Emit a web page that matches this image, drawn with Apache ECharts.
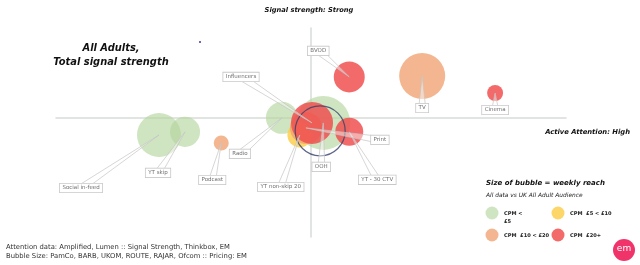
<!DOCTYPE html>
<html><head><meta charset="utf-8">
<script src="https://cdn.jsdelivr.net/npm/echarts@6/dist/echarts.min.js"></script>
<style>html,body{margin:0;padding:0;background:#fff}#c{width:640px;height:265px}</style>
</head><body><div id="c"></div>
<script>
// ---- data ----
const channels  = ['BVOD','TV','Cinema','Influencers','Radio','Social in-feed','YT skip','Podcast','YT non-skip 20','OOH','YT - 30 CTV','Print'];
const attention = [7.5, 21.8, 36.1, 0.2, -5.7, -29.8, -24.7, -17.6, -2.2, 2.4, 7.5, -1.0];
const signal    = [19.6, 20.0, 11.9, -2.4, 0.0, -8.2, -6.7, -12.0, -8.2, -2.4, -6.7, -4.8];
const reach     = [19.6, 43.2, 5.2, 36.0, 20.9, 39.5, 18.4, 4.6, 12.5, 59.5, 16.0, 20.9];
const cpmBand   = ['£20+','£10 < £20','£20+','£20+','< £5','< £5','< £5','£10 < £20','£5 < £10','< £5','£20+','£10 < £20'];
const bands     = ['< £5','£5 < £10','£10 < £20','£20+'];
const allAdults = [1.8, -6.2, 51.0];
// label placement (pixel offsets of each callout from its bubble)
const labelOffsets = [[-31,-26],[0,32],[0,17],[-71,-46],[-42,36],[-78,53],[-27,41],[-9,37],[-19,52],[-2,44],[28,48],[74,12]];

const bandColors = {'< £5':'#b5d59e','£5 < £10':'#fccf4d','£10 < £20':'#f0a474','£20+':'#f05050'};
const bandOpacity = {'< £5':0.65,'£5 < £10':0.85,'£10 < £20':0.8,'£20+':0.85};
const sizeK = 7;
const F = '"DejaVu Sans", sans-serif';

const chart = echarts.init(document.getElementById('c'), null, {renderer:'canvas'});

const bubbleSeries = bands.map(b => ({
  type:'scatter', name:b,
  data: channels.map((n,i)=>[attention[i], signal[i], reach[i], n]).filter((d,i)=>cpmBand[i]===b),
  symbolSize: v => sizeK*Math.sqrt(v[2]),
  itemStyle:{color:bandColors[b], opacity:bandOpacity[b]},
  emphasis:{disabled:true}, silent:true
}));

const outlineSeries = {
  type:'scatter', name:'All Adults',
  data:[allAdults],
  symbolSize: v => sizeK*Math.sqrt(v[2]),
  itemStyle:{color:'rgba(0,0,0,0)', borderColor:'#34406a', borderWidth:1.2},
  silent:true, z:3
};

const calloutSeries = {
  type:'custom', coordinateSystem:'cartesian2d', silent:true, z:5,
  data: channels.map((n,i)=>[attention[i], signal[i]]),
  renderItem: function(params, api){
    const i = params.dataIndex;
    const p = api.coord([api.value(0), api.value(1)]);
    const off = labelOffsets[i];
    const lx = p[0]+off[0], ly = p[1]+off[1];
    const ang = Math.atan2(p[1]-ly, p[0]-lx);
    const w = 3.5;
    const nx = -Math.sin(ang)*w, ny = Math.cos(ang)*w;
    return {type:'group', children:[
      {type:'polygon', shape:{points:[[lx+nx,ly+ny],[lx-nx,ly-ny],[p[0],p[1]]]},
       style:{fill:'rgba(255,255,255,0.45)', stroke:'#c4c4c4', lineWidth:0.7}},
      {type:'text', x:lx, y:ly, z2:10,
       style:{text:channels[i], align:'center', verticalAlign:'middle', font:'5.5px '+F, fill:'#707070',
              backgroundColor:'#fff', borderColor:'#c8c8c8', borderWidth:0.8, padding:[1.5,2.5,1,2.5]}}
    ]};
  }
};

const legendItems = [
  {band:'< £5', x:492, y:213, text:'CPM <\n£5'},
  {band:'£5 < £10', x:558, y:213, text:'CPM  £5 < £10'},
  {band:'£10 < £20', x:492, y:235, text:'CPM  £10 < £20'},
  {band:'£20+', x:558, y:235, text:'CPM  £20+'}
];
const graphics = [];
legendItems.forEach(it=>{
  graphics.push({type:'circle', shape:{cx:it.x, cy:it.y, r:6.5}, style:{fill:bandColors[it.band], opacity:bandOpacity[it.band]}});
  graphics.push({type:'text', x:it.x+12, y:it.y-3.5, style:{text:it.text, font:'bold 5.1px '+F, fill:'#222', lineHeight:8, verticalAlign:'top'}});
});
graphics.push(
  {type:'text', x:309, y:10, style:{text:'Signal strength: Strong', font:'italic bold 6.7px '+F, fill:'#111', align:'center', verticalAlign:'middle'}},
  {type:'text', x:111, y:48, style:{text:'All Adults,', font:'italic bold 9.9px '+F, fill:'#111', align:'center', verticalAlign:'middle'}},
  {type:'text', x:111, y:62, style:{text:'Total signal strength', font:'italic bold 9.9px '+F, fill:'#111', align:'center', verticalAlign:'middle'}},
  {type:'text', x:630, y:132, style:{text:'Active Attention: High', font:'italic bold 6.8px '+F, fill:'#111', align:'right', verticalAlign:'middle'}},
  {type:'text', x:486, y:183, style:{text:'Size of bubble = weekly reach', font:'italic bold 7px '+F, fill:'#111', align:'left', verticalAlign:'middle'}},
  {type:'text', x:486, y:195, style:{text:'All data vs UK All Adult Audience', font:'italic 5.9px '+F, fill:'#222', align:'left', verticalAlign:'middle'}},
  {type:'circle', shape:{cx:624, cy:250, r:11}, style:{fill:'#f0346a'}},
  {type:'text', x:624, y:249, style:{text:'em', font:'9px '+F, fill:'#fff', align:'center', verticalAlign:'middle'}},
  {type:'circle', shape:{cx:200, cy:42, r:1}, style:{fill:'#3a3aa0'}},
  {type:'text', x:6, y:247, style:{text:'Attention data: Amplified, Lumen :: Signal Strength, Thinkbox, EM', font:'6.8px '+F, fill:'#333', verticalAlign:'middle'}},
  {type:'text', x:6, y:256, style:{text:'Bubble Size: PamCo, BARB, UKOM, ROUTE, RAJAR, Ofcom :: Pricing: EM', font:'6.8px '+F, fill:'#333', verticalAlign:'middle'}}
);

chart.setOption({
  animation:false,
  grid:{left:56, right:74, top:28, bottom:28},
  xAxis:{type:'value', min:-50, max:50, axisLine:{show:true, onZero:true, lineStyle:{color:'#d6ddd9', width:1.5}},
         axisTick:{show:false}, axisLabel:{show:false}, splitLine:{show:false}},
  yAxis:{type:'value', min:-57, max:43, axisLine:{show:true, onZero:true, lineStyle:{color:'#d6ddd9', width:1.5}},
         axisTick:{show:false}, axisLabel:{show:false}, splitLine:{show:false}},
  series: bubbleSeries.concat([outlineSeries, calloutSeries]),
  graphic: graphics
});
</script></body></html>
